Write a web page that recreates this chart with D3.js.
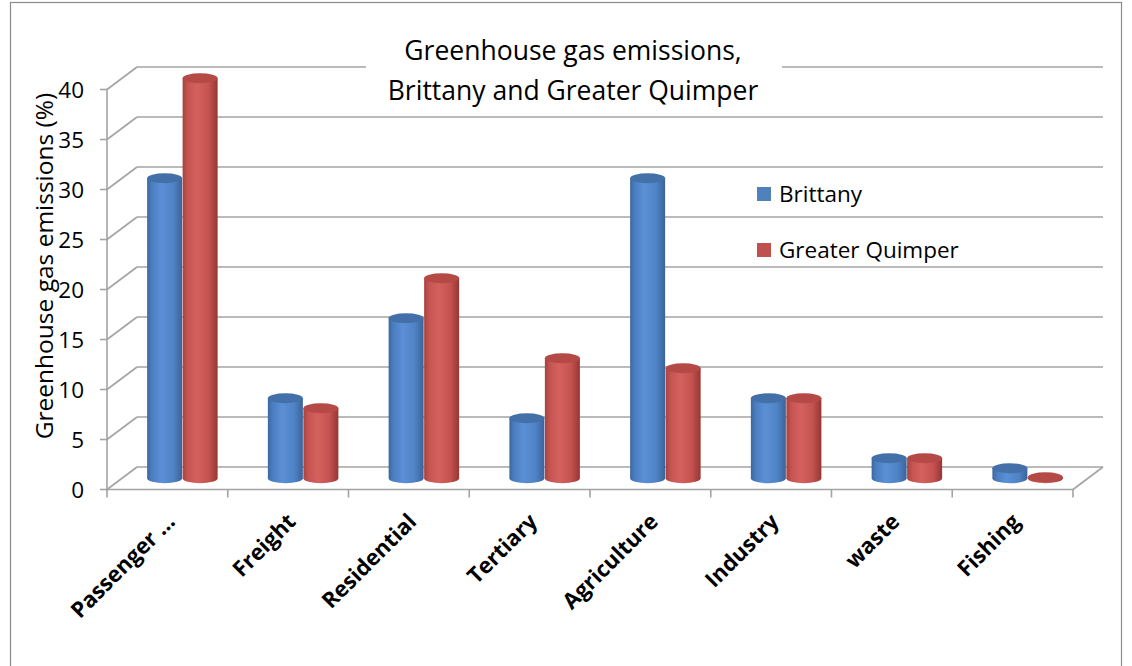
<!DOCTYPE html>
<html>
<head>
<meta charset="utf-8">
<script src="https://cdn.jsdelivr.net/npm/d3@7"></script>
<style>
  html, body { margin: 0; padding: 0; background: #fff; }
  svg { display: block; }
  text { font-family: "Open Sans", Lato, sans-serif; fill: #000; }
</style>
</head>
<body>
<svg id="chart" width="1132" height="666"></svg>
<script>
// Emission shares by sector (%)
const categories = ["Passenger …", "Freight", "Residential", "Tertiary", "Agriculture", "Industry", "waste", "Fishing"];
const seriesNames = ["Brittany", "Greater Quimper"];
const brittany = [30, 8, 16, 6, 30, 8, 2, 1];
const greaterQuimper = [40, 7, 20, 12, 11, 8, 2, 0.1];
const yTicks = [0, 5, 10, 15, 20, 25, 30, 35, 40];
const titleLines = ["Greenhouse gas emissions,", "Brittany and Greater Quimper"];
const yTitle = "Greenhouse gas emissions (%)";

const svg = d3.select("#chart");

// outer chart frame
svg.append("rect")
  .attr("x", 10.5).attr("y", 2.5).attr("width", 1111).attr("height", 700)
  .attr("fill", "none").attr("stroke", "#8c8c8c").attr("stroke-width", 1.2);

// front plane scales
const x = d3.scaleBand().domain(categories).range([107, 1073]).padding(0);
const y = d3.scaleLinear().domain([0, 40]).range([489.5, 89.5]);
// depth offset of the back wall
const DX = 30, DY = -22.5;
// bars sit half way into the depth
const BDX = DX * 0.5, BDY = DY * 0.5;
const inner = d3.scaleBand().domain(seriesNames).range([-35.5, 35.5]).padding(0);

const grid = svg.append("g").attr("stroke", "#a3a3a3").attr("stroke-width", 1.6).attr("fill", "none");
const x0 = x.range()[0], x1 = x.range()[1];

// back wall gridlines + side wall diagonals
yTicks.forEach(t => {
  grid.append("line")
    .attr("x1", x0 + DX).attr("x2", x1 + DX)
    .attr("y1", y(t) + DY).attr("y2", y(t) + DY);
  grid.append("line")
    .attr("x1", x0).attr("x2", x0 + DX)
    .attr("y1", y(t)).attr("y2", y(t) + DY);
});
// floor front edge and right edge
grid.append("line").attr("x1", x0).attr("x2", x1).attr("y1", y(0)).attr("y2", y(0));
grid.append("line").attr("x1", x1).attr("x2", x1 + DX).attr("y1", y(0)).attr("y2", y(0) + DY);
// vertical axis line
grid.append("line").attr("x1", x0).attr("x2", x0).attr("y1", y(40)).attr("y2", y(0));
// y ticks
yTicks.forEach(t => {
  grid.append("line").attr("x1", x0 - 7).attr("x2", x0).attr("y1", y(t)).attr("y2", y(t));
});
// category ticks at band boundaries
const boundaries = categories.map(c => x(c)).concat([x1]);
boundaries.forEach(b => {
  grid.append("line").attr("x1", b).attr("x2", b).attr("y1", y(0)).attr("y2", y(0) + 8);
});

// y tick labels
svg.append("g").selectAll("text").data(yTicks).join("text")
  .attr("x", 84).attr("y", d => y(d))
  .attr("dy", "0.36em").attr("text-anchor", "end")
  .attr("font-size", 22.5).text(d => d);

// y axis title
svg.append("text")
  .attr("transform", `translate(53,${266}) rotate(-90)`)
  .attr("text-anchor", "middle").attr("font-size", 24.5)
  .text(yTitle);

// category labels, rotated
svg.append("g").selectAll("text").data(categories).join("text")
  .attr("transform", d => `translate(${x(d) + x.bandwidth() / 2 + 9},${523}) rotate(-45)`)
  .attr("text-anchor", "end").attr("font-size", 22).attr("font-weight", "bold")
  .text(d => d);

// gradients for cylinders
const defs = svg.append("defs");
function cylGrad(id, stops) {
  const g = defs.append("linearGradient").attr("id", id)
    .attr("x1", "0").attr("x2", "1").attr("y1", "0").attr("y2", "0");
  stops.forEach(s => g.append("stop").attr("offset", s[0]).attr("stop-color", s[1]));
}
cylGrad("gBlue", [[0, "#3c679d"], [0.12, "#4a7cbf"], [0.4, "#5b90d6"], [0.75, "#4f83c6"], [1, "#3b6399"]]);
cylGrad("gRed", [[0, "#a8423f"], [0.15, "#c65552"], [0.42, "#d4615d"], [0.75, "#c4524f"], [1, "#963634"]]);
const capFill = { "Brittany": "#4470a9", "Greater Quimper": "#b44946" };
const bodyFill = { "Brittany": "url(#gBlue)", "Greater Quimper": "url(#gRed)" };

const rows = [];
categories.forEach((c, i) => {
  rows.push({ cat: c, s: "Brittany", v: brittany[i] });
  rows.push({ cat: c, s: "Greater Quimper", v: greaterQuimper[i] });
});

const RX = 17.5, RY = 5;
const bars = svg.append("g");
rows.forEach(d => {
  const cx = x(d.cat) + x.bandwidth() / 2 + BDX + inner(d.s) + inner.bandwidth() / 2;
  const yb = y(0) + BDY;
  const yt = y(d.v) + BDY;
  const g = bars.append("g");
  if (yb - yt > 0.5) {
    g.append("path")
      .attr("d", `M${cx - RX},${yt} L${cx - RX},${yb} A${RX},${RY} 0 0 0 ${cx + RX},${yb} L${cx + RX},${yt} Z`)
      .attr("fill", bodyFill[d.s]);
  }
  g.append("ellipse")
    .attr("cx", cx).attr("cy", yt).attr("rx", RX).attr("ry", RY)
    .attr("fill", capFill[d.s]);
});

// title with white backing
svg.append("rect").attr("x", 366).attr("y", 30).attr("width", 416).attr("height", 74).attr("fill", "#fff");
svg.append("g").selectAll("text").data(titleLines).join("text")
  .attr("x", 573).attr("y", (d, i) => 60 + i * 40)
  .attr("text-anchor", "middle").attr("font-size", 26.5)
  .text(d => d);

// legend
const legend = svg.append("g");
seriesNames.forEach((s, i) => {
  legend.append("rect")
    .attr("x", 757).attr("y", 187 + i * 56).attr("width", 14).attr("height", 14)
    .attr("fill", i === 0 ? "#4f81bd" : "#c0504d");
  legend.append("text")
    .attr("x", 779).attr("y", 194 + i * 56).attr("dy", "0.36em")
    .attr("font-size", 22.5).text(s);
});
</script>
</body>
</html>
